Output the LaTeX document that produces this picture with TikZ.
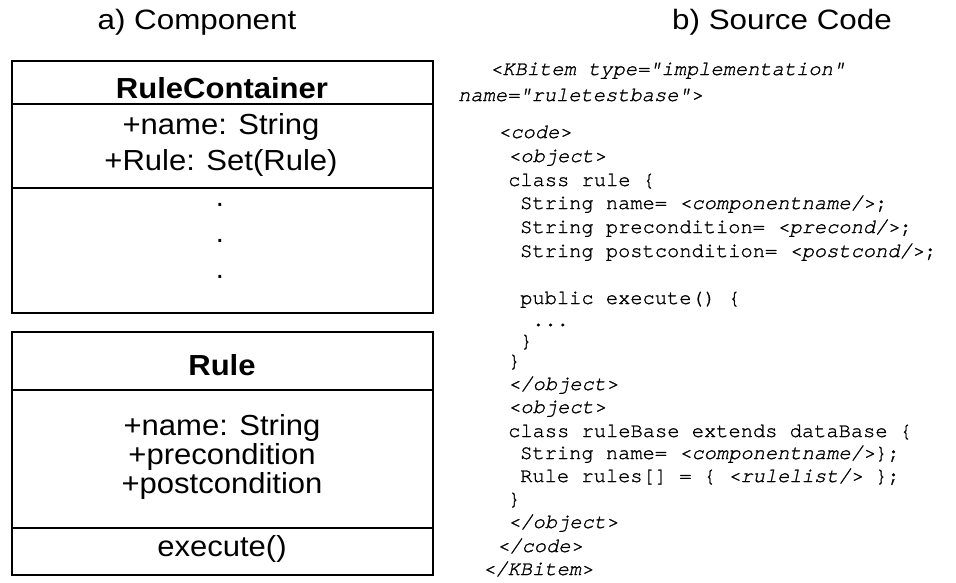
\documentclass[tikz,border=0pt]{standalone}
\usepackage{fontspec}
\setmainfont{Liberation Sans}
\setmonofont[Extension=.otf, UprightFont=texgyrecursor-regular, ItalicFont=texgyrecursor-italic, BoldFont=texgyrecursor-bold, UprightFeatures={FakeBold=1.2}, ItalicFeatures={FakeBold=1.2}]{texgyrecursor}
\usepackage{graphicx}
\tikzset{
  umlbox/.style={draw, line width=1.8pt, minimum width=421pt, inner sep=0pt},
  divider/.style={line width=1.5pt},
  title/.style={font=\fontsize{28}{32}\selectfont, inner sep=0pt},
  big/.style={font=\fontsize{29}{32}\selectfont, inner sep=0pt},
  bigb/.style={font=\fontsize{29}{32}\selectfont\bfseries, inner sep=0pt},
  code/.style={font=\fontsize{20.4}{22}\selectfont\ttfamily, anchor=west, inner sep=0pt, text height=13pt, text depth=3pt},
}
\newcommand{\hs}[1]{\scalebox{1.12}[1]{#1}}
\newcommand{\hb}[1]{\scalebox{1.07}[1]{#1}}
\begin{document}
\begin{tikzpicture}[x=1pt,y=-1pt]
\useasboundingbox (0,0) rectangle (956,582);
% titles
\node[title] (ta) at (197,22) {\hs{a) Component}};
\node[title] (tb) at (782,22) {\hs{b) Source Code}};
% box 1
\node[umlbox, minimum height=252pt] (box1) at (222.5,187) {};
\draw[divider] (box1.west |- 0,104) -- (box1.east |- 0,104);
\draw[divider] (box1.west |- 0,188) -- (box1.east |- 0,188);
\node[bigb] (rc) at (222,88) {\hb{RuleContainer}};
\node[big] (rc1) at (221,127) {\hb{+name: String}};
\node[big] (rc2) at (221,163) {\hb{+Rule: Set(Rule)}};
\node[big] (d1) at (220,205) {.};
\node[big] (d2) at (220,241) {.};
\node[big] (d3) at (220,277) {.};
% box 2
\node[umlbox, minimum height=243pt] (box2) at (222.5,453.5) {};
\draw[divider] (box2.west |- 0,390) -- (box2.east |- 0,390);
\draw[divider] (box2.west |- 0,528) -- (box2.east |- 0,528);
\node[bigb] (r) at (222,365) {\hb{Rule}};
\node[big] (r1) at (222,428) {\hb{+name: String}};
\node[big] (r2) at (222,457) {\hb{+precondition}};
\node[big] (r3) at (222,486) {\hb{+postcondition}};
\node[big] (r4) at (222,549) {\hb{execute()}};
% code
\node[code] (c1) at (490,70) {\textit{<KBitem type="implementation"}};
\node[code] (c2) at (458,96) {\textit{name="ruletestbase">}};
\node[code] (c3) at (498,133) {\textit{<code>}};
\node[code] (c4) at (508,157) {\textit{<object>}};
\node[code] (c5) at (508,181) {class rule \{};
\node[code] (c6) at (520,204) {String name= \textit{<componentname/>};};
\node[code] (c7) at (520,228) {String precondition= \textit{<precond/>};};
\node[code] (c8) at (520,252) {String postcondition= \textit{<postcond/>};};
\node[code] (c9) at (520,299) {public execute() \{};
\node[code] (c10) at (532,321) {...};
\node[code] (c11) at (520,342) {\}};
\node[code] (c12) at (508,362) {\}};
\node[code] (c13) at (508,385) {\textit{</object>}};
\node[code] (c14) at (508,408) {\textit{<object>}};
\node[code] (c15) at (508,432) {class ruleBase extends dataBase \{};
\node[code] (c16) at (520,454) {String name= \textit{<componentname/>}\};};
\node[code] (c17) at (520,477) {Rule rules[] = \{ \textit{<rulelist/>} \};};
\node[code] (c18) at (508,500) {\}};
\node[code] (c19) at (508,523) {\textit{</object>}};
\node[code] (c20) at (497,547) {\textit{</code>}};
\node[code] (c21) at (483,570) {\textit{</KBitem>}};
\end{tikzpicture}
\end{document}
